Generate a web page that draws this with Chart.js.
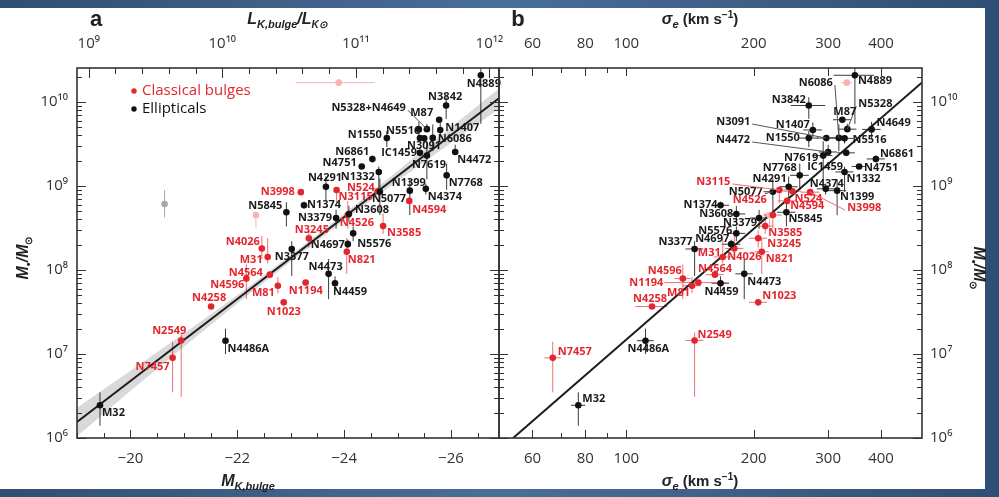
<!DOCTYPE html>
<html>
<head>
<meta charset="utf-8">
<title>Black hole mass vs bulge luminosity and velocity dispersion</title>
<script src="https://cdn.jsdelivr.net/npm/chart.js@4.4.1/dist/chart.umd.min.js"></script>
<style>
  html, body { margin: 0; padding: 0; }
  body { width: 999px; height: 497px; overflow: hidden; position: relative;
         background: linear-gradient(90deg, #2d4f76, #4a6f96 50%, #2d4f76); }
  #sheet { position: absolute; left: 0; top: 8px; width: 985px; height: 481px; background: #fff; }
  canvas { position: absolute; top: 0; }
  #panelA { left: 0; }
  #panelB { left: 480px; }
</style>
</head>
<body>
<div id="sheet"></div>
<canvas id="panelA" width="520" height="497"></canvas>
<canvas id="panelB" width="519" height="497"></canvas>
<script>
// ---- values ----
const ellNames = ['M32','N4486A','N3377','N4697','N5576','N4473','N4459','N5845','N1374','N3379','N3608','N4291','N5077','N1332','N4751','N6861','N1550','N1399','N4374','N7768','N4472','N7619','IC1459','N3091','N6086','N1407','N5516','N5328','N4649','M87','N3842','N4889'];
const ellMK = [-19.43,-21.78,-23.02,-24.07,-24.17,-23.71,-23.83,-22.92,-23.25,-23.85,-24.09,-23.66,-24.67,-24.65,-24.33,-24.53,-24.80,-25.23,-25.53,-25.92,-26.08,-25.55,-25.42,-25.42,-25.66,-25.80,-25.50,-25.55,-25.40,-25.78,-25.91,-26.56];
const ellSigma = [77,111,145,177,182,190,167,239,167,206,182,242,222,328,355,389,270,315,296,257,300,292,331,297,318,276,328,333,380,324,270,347];
const ellMbh = [2.45e6,1.44e7,1.78e8,2.03e8,2.73e8,9.0e7,6.96e7,4.87e8,5.9e8,4.16e8,4.65e8,9.8e8,8.55e8,1.47e9,1.71e9,2.1e9,3.72e9,8.8e8,9.25e8,1.34e9,2.54e9,2.3e9,2.48e9,3.72e9,3.74e9,4.65e9,3.69e9,4.75e9,4.72e9,6.15e9,9.09e9,2.08e10];
const ellMbhLo = [1.4e6,1.0e7,8.5e7,1.8e8,2.2e8,4.5e7,5.6e7,3.3e8,5.4e8,3.1e8,3.7e8,6.6e8,4.5e8,8.5e8,1.6e9,1.9e9,2.9e9,4.5e8,7.9e8,9.0e8,2.44e9,1.2e9,2.3e9,3.6e9,2.6e9,3.8e9,3.2e9,4.5e9,3.7e9,5.8e9,6.3e9,5.5e9];
const ellMbhHi = [3.5e6,2.0e7,2.2e8,2.3e8,3.3e8,1.35e8,8.4e7,6.4e8,6.5e8,5.2e8,5.8e8,1.3e9,1.23e9,1.7e9,1.8e9,2.3e9,4.5e9,1.2e9,1.07e9,1.85e9,3.1e9,3.4e9,2.7e9,3.8e9,5.4e9,5.7e9,4.0e9,5.5e9,5.8e9,6.5e9,1.14e10,3.7e10];
const ellSigmaErr = [3,5,7,9,9,9,8,12,8,10,9,12,11,16,14,19,14,16,14,13,15,15,16,15,16,14,16,17,19,16,25,38];

const bulgeNames = ['N3998','N4026','M31','N4564','N4596','N4258','M81','N1194','N1023','N2549','N7457','N3245','N524','N3115','N4526','N3585','N821','N4594'];
const bulgeMK = [-23.19,-22.46,-22.57,-22.61,-22.17,-21.51,-22.76,-23.28,-22.87,-20.95,-20.79,-23.34,-24.63,-23.86,-24.07,-24.73,-24.05,-25.22];
const bulgeSigma = [272,180,169,162,136,115,143,148,205,145,67,205,247,230,222,213,209,240];
const bulgeMbh = [8.45e8,1.8e8,1.43e8,8.8e7,7.9e7,3.67e7,6.5e7,7.08e7,4.13e7,1.45e7,9.0e6,2.39e8,8.67e8,8.97e8,4.51e8,3.33e8,1.65e8,6.65e8];
const bulgeMbhLo = [8.2e8,1.35e8,1.2e8,8.4e7,4.5e7,3.6e7,5.3e7,6.7e7,3.7e7,3.1e6,3.5e6,1.85e8,8.3e8,6.2e8,3.1e8,2.7e8,9.0e7,6.0e8];
const bulgeMbhHi = [8.7e8,2.55e8,2.4e8,9.2e7,1.16e8,3.7e7,8.2e7,7.4e7,4.5e7,1.8e7,1.4e7,2.95e8,9.1e8,9.5e8,6.6e8,4.7e8,2.4e8,7.3e8];
const bulgeSigmaErr = [14,9,8,8,6,10,7,25,10,7,3,10,12,11,11,10,8,12];

// faded (omitted) objects
const omitKind = ['E','C','C'];
const omitMK = [-20.64,-22.35,-23.9];
const omitMKLo = [null,null,-23.1];
const omitMKHi = [null,null,-24.57];
const omitSigma = [null,218,332];
const omitSigmaErr = [null,6,10];
const omitMbh = [6.1e8,4.5e8,1.7e10];
const omitMbhLo = [4.2e8,3.2e8,null];
const omitMbhHi = [8.9e8,4.9e8,null];

// fits
const fitMK = [-19, -26.9];
const fitMKMbh = [1.55e6, 1.11e10];
const bandMK = [-19,-20,-21,-22,-23,-24,-25,-26,-26.9];
const bandHi = [2.29e6,6.3e6,1.76e7,5.0e7,1.51e8,4.68e8,1.51e9,5.0e9,1.45e10];
const bandLo = [1.05e6,3.63e6,1.22e7,3.98e7,1.26e8,3.89e8,1.15e9,3.24e9,8.3e9];
const fitSigma = [54, 500];
const fitSigmaMbh = [1.0e6, 1.71e10];

// axes
const MSUN_K = 3.28;
const mkMin = -26.9, mkMax = -19;
const mbhMin = 1e6, mbhMax = 2.54e10;
const sigmaMin = 50, sigmaMax = 500;
const mkTicks = [-20,-22,-24,-26];
const lumTicks = [9,10,11,12];
const sigmaTicks = [60,80,100,200,300,400];
const sigmaMinorTicks = [70,90];
const mbhTicks = [1e6,1e7,1e8,1e9,1e10];

// label placement [dx, dy, align, leader, text]
const labelsA = {
  M32:[2,8,'l'], N4486A:[2,8,'l'], N3377:[-17,8,'l'], N4697:[-3,1,'r'], N5576:[4,10,'l'],
  N4473:[-20,-7,'l'], N4459:[-2,9,'l'], N5845:[-4,-6,'r'], N1374:[3,0,'l'], N3379:[-4,0,'r'],
  N3608:[6,-4,'l'], N4291:[-18,-9,'l'], N5077:[-8,7,'l'], N1332:[-4,5,'r'], N4751:[-5,-4,'r'],
  N6861:[-3,-7,'r'], N1550:[-5,-3,'r'], N1399:[-18,-8,'l'], N4374:[2,8,'l'], N7768:[2,8,'l'],
  N4472:[2,8,'l'], N7619:[-15,9,'l'], IC1459:[-3,0,'r'], N3091:[-13,8,'l'], N6086:[5,1,'l'],
  N1407:[5,-2,'l'], N5516:[-4,-8,'r'], N5328:[-21,-21,'r',true,'N5328+N4649'], M87:[-6,-7,'r'],
  N3842:[-18,-9,'l'], N4889:[-14,9,'l'],
  N3998:[-6,0,'r'], N4026:[-2,-7,'r'], M31:[-5,3,'r'], N4564:[-7,-2,'r'], N4596:[-2,6,'r'],
  N4258:[-19,-9,'l'], M81:[-3,7,'r'], N1194:[-17,8,'l'], N1023:[-17,10,'l'], N2549:[-29,-10,'l'],
  N7457:[-3,9,'r'], N3245:[-14,-8,'l'], N524:[-3,-3,'r'], N3115:[2,7,'l'], N4526:[-8,8,'l'],
  N3585:[4,7,'l'], N821:[1,8,'l'], N4594:[3,9,'l']
};
const labelsB = {
  M32:[4,-6,'l'], N4486A:[-18,8,'l'], N3377:[-2,-7,'r'], N4697:[-2,-5,'r'], N5576:[-4,-3,'r'],
  N4473:[3,8,'l'], N4459:[-16,9,'l'], N5845:[2,7,'l'], N1374:[-3,0,'r'], N3379:[-2,5,'r'],
  N3608:[-3,0,'r'], N4291:[-2,-8,'r'], N5077:[-10,0,'r',true], N1332:[2,7,'l'], N4751:[5,1,'l'],
  N6861:[4,-5,'l'], N1550:[-9,0,'r'], N1399:[3,6,'l'], N4374:[-16,-5,'l'], N7768:[-3,-7,'r'],
  N4472:[-78,-12,'r',true], N7619:[-5,2,'r'], IC1459:[-39,14,'l'], N3091:[-76,-16,'r',true],
  N6086:[-6,-55,'r',true], N1407:[-3,-5,'r'], N5516:[8,1,'l'], N5328:[11,-25,'l',true],
  N4649:[5,-7,'l'], M87:[-9,-8,'l'], N3842:[-3,-6,'r'], N4889:[3,6,'l'],
  N3998:[37,16,'l',true], N4026:[-7,8,'l'], M31:[-2,-4,'r'], N4564:[-17,-6,'l'], N4596:[-1,-8,'r'],
  N4258:[-19,-8,'l'], M81:[-2,7,'r'], N1194:[-35,0,'r'], N1023:[4,-6,'l'], N2549:[3,-6,'l'],
  N7457:[5,-6,'l'], N3245:[9,6,'l'], N524:[2,8,'l'], N3115:[-49,-8,'r',true], N4526:[-6,-15,'r'],
  N3585:[3,7,'l'], N821:[4,7,'l'], N4594:[3,5,'l']
};

// ---- styling ----
const RED = '#e3262d', RED_BAR = '#ec6f72', PINK = '#f4b3b5';
const BLACK = '#111', BLACK_BAR = '#3a3a3a', GREY = '#a8a8a8';
const AXIS = '#333';
const SANS = "'Open Sans', 'Liberation Sans', sans-serif";
const tickFont = { family: SANS, size: 15 };
const labelFont = "bold 11px " + SANS;

const SUP = { '0':'\u2070','1':'\u00b9','2':'\u00b2','3':'\u00b3','4':'\u2074','5':'\u2075','6':'\u2076','7':'\u2077','8':'\u2078','9':'\u2079' };
const sup = n => String(n).split('').map(c => SUP[c]).join('');

const mbhMinor = [];
for (let d = 6; d <= 10; d++) for (let k = 2; k <= 9; k++) if (k * Math.pow(10, d) <= mbhMax) mbhMinor.push(k * Math.pow(10, d));
const mkAll = [];
for (let m = -19; m >= mkMin; m -= 0.5) mkAll.push(m);
const lumAll = [];
for (let l = 9; l <= 12.001; l += 0.2) lumAll.push(+l.toFixed(1));

function mbhAxis(pos, pad) {
  return {
    type: 'logarithmic', position: pos, min: mbhMin, max: mbhMax,
    afterBuildTicks: s => { s.ticks = mbhTicks.map(v => ({ value: v })); },
    ticks: { callback: v => '10' + sup(Math.round(Math.log10(v))), font: tickFont, color: AXIS, padding: pad, autoSkip: false },
    grid: { display: false, drawTicks: false },
    border: { display: false },
    afterFit: s => { s.width = 77; s.paddingTop = 0; s.paddingBottom = 0; }
  };
}
function xAxis(type, pos, min, max, ticks, label, reverse) {
  return {
    type: type, position: pos, min: min, max: max, reverse: !!reverse,
    afterBuildTicks: s => { s.ticks = ticks.map(v => ({ value: v })); },
    ticks: { callback: label, font: tickFont, color: AXIS, padding: pos === 'top' ? 15 : 12, autoSkip: false, maxRotation: 0 },
    grid: { display: false, drawTicks: false },
    border: { display: false },
    afterFit: s => { s.height = pos === 'top' ? 68 : 59; s.paddingLeft = 0; s.paddingRight = 0; }
  };
}

function drawRich(ctx, parts, x, y, rot) {
  ctx.save();
  ctx.translate(x, y);
  if (rot) ctx.rotate(rot);
  let w = 0;
  parts.forEach(p => { ctx.font = p.f; w += ctx.measureText(p.t).width; });
  let cx = -w / 2;
  ctx.textBaseline = 'alphabetic';
  ctx.textAlign = 'left';
  ctx.fillStyle = '#222';
  parts.forEach(p => { ctx.font = p.f; ctx.fillText(p.t, cx, p.dy || 0); cx += ctx.measureText(p.t).width; });
  ctx.restore();
}
const BI = sz => 'italic bold ' + sz + 'px "Liberation Sans", sans-serif';
const B = sz => 'bold ' + sz + 'px "Liberation Sans", sans-serif';
const sigmaTitle = [{ t: '\u03c3', f: BI(16) }, { t: 'e', f: BI(11), dy: 4 }, { t: ' (km s', f: B(15) }, { t: '\u22121', f: B(10), dy: -6 }, { t: ')', f: B(15) }];
const mbhTitle = [{ t: 'M', f: BI(16) }, { t: '\u2022', f: B(11), dy: 4 }, { t: '/M', f: BI(16) }, { t: '\u2299', f: B(10), dy: 4 }];

function innerTicks(ctx, area, scale, edge, vals, len) {
  ctx.beginPath();
  vals.forEach(v => {
    const p = Math.round(scale.getPixelForValue(v)) + 0.5;
    if (edge === 'bottom') { ctx.moveTo(p, area.bottom); ctx.lineTo(p, area.bottom - len); }
    if (edge === 'top') { ctx.moveTo(p, area.top); ctx.lineTo(p, area.top + len); }
    if (edge === 'left') { ctx.moveTo(area.left, p); ctx.lineTo(area.left + len, p); }
    if (edge === 'right') { ctx.moveTo(area.right, p); ctx.lineTo(area.right - len, p); }
  });
  ctx.stroke();
}

function makePlugin(groups, labels, decorate) {
  return {
    id: 'panelDecor',
    beforeDatasetsDraw(chart) {
      const ctx = chart.ctx, a = chart.chartArea, sx = chart.scales.x, sy = chart.scales.y;
      ctx.save();
      ctx.beginPath(); ctx.rect(a.left, a.top, a.right - a.left, a.bottom - a.top); ctx.clip();
      ctx.lineWidth = 1;
      groups.forEach(g => {
        g.xs.forEach((xv, i) => {
          if (xv == null) return;
          const px = sx.getPixelForValue(xv), py = sy.getPixelForValue(g.ys[i]);
          ctx.strokeStyle = g.barColor(i);
          ctx.beginPath();
          if (g.yLo && g.yLo[i] != null) { ctx.moveTo(px, sy.getPixelForValue(g.yLo[i])); ctx.lineTo(px, sy.getPixelForValue(g.yHi[i])); }
          if (g.xLo && g.xLo[i] != null) { ctx.moveTo(sx.getPixelForValue(g.xLo[i]), py); ctx.lineTo(sx.getPixelForValue(g.xHi[i]), py); }
          ctx.stroke();
        });
      });
      ctx.restore();
    },
    afterDatasetsDraw(chart) {
      const ctx = chart.ctx, sx = chart.scales.x, sy = chart.scales.y;
      ctx.save();
      ctx.font = labelFont;
      ctx.textBaseline = 'middle';
      groups.forEach(g => {
        if (!g.names) return;
        g.names.forEach((n, i) => {
          const L = labels[n];
          if (!L) return;
          const px = sx.getPixelForValue(g.xs[i]), py = sy.getPixelForValue(g.ys[i]);
          const tx = px + L[0], ty = py + L[1];
          const text = L[4] || n;
          ctx.fillStyle = g.textColor;
          ctx.textAlign = L[2] === 'r' ? 'right' : 'left';
          ctx.fillText(text, tx, ty);
          if (L[3]) {
            ctx.strokeStyle = g.textColor === RED ? RED_BAR : '#555';
            ctx.lineWidth = 1;
            ctx.beginPath();
            ctx.moveTo(L[2] === 'r' ? tx + 2 : tx - 2, ty + 2);
            ctx.lineTo(px, py);
            ctx.stroke();
          }
        });
      });
      ctx.restore();
    },
    afterDraw(chart) {
      const ctx = chart.ctx, a = chart.chartArea;
      ctx.save();
      ctx.strokeStyle = AXIS;
      ctx.lineWidth = 1;
      decorate(ctx, a, chart.scales);
      ctx.lineWidth = 1.6;
      ctx.strokeRect(a.left, a.top, a.right - a.left, a.bottom - a.top);
      ctx.restore();
    }
  };
}

function scatterSet(xs, ys, color, order) {
  return { type: 'scatter', data: xs.map((x, i) => ({ x: x, y: ys[i] })).filter(p => p.x != null),
           backgroundColor: color, borderWidth: 0, pointRadius: 3.3, order: order };
}
function lineSet(xs, ys, extra) {
  return Object.assign({ type: 'line', data: xs.map((x, i) => ({ x: x, y: ys[i] })),
           pointRadius: 0, borderWidth: 0, tension: 0, fill: false }, extra);
}
const omitColor = i => omitKind[i] === 'E' ? GREY : PINK;

// ---- panel a ----
const groupsA = [
  { xs: omitMK, ys: omitMbh, yLo: omitMbhLo, yHi: omitMbhHi, xLo: omitMKLo, xHi: omitMKHi, barColor: omitColor },
  { xs: ellMK, ys: ellMbh, yLo: ellMbhLo, yHi: ellMbhHi, names: ellNames, barColor: () => BLACK_BAR, textColor: '#1a1a1a' },
  { xs: bulgeMK, ys: bulgeMbh, yLo: bulgeMbhLo, yHi: bulgeMbhHi, names: bulgeNames, barColor: () => RED_BAR, textColor: RED }
];

new Chart(document.getElementById('panelA'), {
  type: 'scatter',
  data: { datasets: [
    scatterSet(ellMK, ellMbh, BLACK, 0),
    scatterSet(bulgeMK, bulgeMbh, RED, 0),
    scatterSet(omitMK, omitMbh, omitKind.map((k, i) => omitColor(i)), 1),
    lineSet(fitMK, fitMKMbh, { borderColor: '#1c1c1c', borderWidth: 2, order: 2 }),
    lineSet(bandMK, bandHi, { fill: '+1', backgroundColor: 'rgba(0,0,0,0.15)', order: 3 }),
    lineSet(bandMK, bandLo, { order: 3 })
  ] },
  options: {
    responsive: false, animation: false, events: [],
    layout: { padding: { right: 21 } },
    plugins: { legend: { display: false }, tooltip: { enabled: false } },
    scales: {
      x: xAxis('linear', 'bottom', mkMin, mkMax, mkTicks, v => '\u2212' + Math.abs(v), true),
      x2: xAxis('linear', 'top', 0.4 * (MSUN_K - mkMax), 0.4 * (MSUN_K - mkMin), lumTicks, v => '10' + sup(v)),
      y: mbhAxis('left', 9)
    }
  },
  plugins: [makePlugin(groupsA, labelsA, (ctx, a, s) => {
    innerTicks(ctx, a, s.y, 'left', mbhMinor, 5);
    innerTicks(ctx, a, s.y, 'left', mbhTicks, 9);
    innerTicks(ctx, a, s.y, 'right', mbhMinor, 5);
    innerTicks(ctx, a, s.y, 'right', mbhTicks, 9);
    innerTicks(ctx, a, s.x, 'bottom', mkAll, 5);
    innerTicks(ctx, a, s.x, 'bottom', mkTicks, 8);
    innerTicks(ctx, a, s.x2, 'top', lumAll, 6);
    innerTicks(ctx, a, s.x2, 'top', lumTicks, 10);
    // legend
    ctx.font = '15px ' + SANS; ctx.textBaseline = 'middle'; ctx.textAlign = 'left';
    [['Classical bulges', RED, 91], ['Ellipticals', BLACK, 109]].forEach(([t, c, y]) => {
      ctx.fillStyle = c; ctx.beginPath(); ctx.arc(134, y, 2.7, 0, 2 * Math.PI); ctx.fill();
      ctx.fillText(t, 142, y);
    });
    // titles
    ctx.fillStyle = '#222'; ctx.font = B(22); ctx.textAlign = 'center'; ctx.textBaseline = 'alphabetic';
    ctx.fillText('a', 96, 26);
    drawRich(ctx, [{ t: 'L', f: BI(16) }, { t: 'K,bulge', f: BI(11), dy: 4 }, { t: '/L', f: BI(16) }, { t: 'K\u2299', f: BI(10), dy: 4 }], 287, 24);
    drawRich(ctx, [{ t: 'M', f: BI(16) }, { t: 'K,bulge', f: BI(11), dy: 4 }], 248, 486);
    drawRich(ctx, mbhTitle, 28, 258, -Math.PI / 2);
  })]
});

// ---- panel b ----
const omitSigLo = omitSigma.map((s, i) => s == null ? null : s - omitSigmaErr[i]);
const omitSigHi = omitSigma.map((s, i) => s == null ? null : s + omitSigmaErr[i]);
const groupsB = [
  { xs: omitSigma, ys: omitMbh, yLo: omitMbhLo, yHi: omitMbhHi, xLo: omitSigLo, xHi: omitSigHi, barColor: omitColor },
  { xs: ellSigma, ys: ellMbh, yLo: ellMbhLo, yHi: ellMbhHi, xLo: ellSigma.map((s, i) => s - ellSigmaErr[i]), xHi: ellSigma.map((s, i) => s + ellSigmaErr[i]),
    names: ellNames, barColor: () => BLACK_BAR, textColor: '#1a1a1a' },
  { xs: bulgeSigma, ys: bulgeMbh, yLo: bulgeMbhLo, yHi: bulgeMbhHi, xLo: bulgeSigma.map((s, i) => s - bulgeSigmaErr[i]), xHi: bulgeSigma.map((s, i) => s + bulgeSigmaErr[i]),
    names: bulgeNames, barColor: () => RED_BAR, textColor: RED }
];

new Chart(document.getElementById('panelB'), {
  type: 'scatter',
  data: { datasets: [
    scatterSet(ellSigma, ellMbh, BLACK, 0),
    scatterSet(bulgeSigma, bulgeMbh, RED, 0),
    scatterSet(omitSigma, omitMbh, omitKind.map((k, i) => omitColor(i)).filter((c, i) => omitSigma[i] != null), 1),
    lineSet(fitSigma, fitSigmaMbh, { borderColor: '#1c1c1c', borderWidth: 2, order: 2 })
  ] },
  options: {
    responsive: false, animation: false, events: [],
    layout: { padding: { left: 19 } },
    plugins: { legend: { display: false }, tooltip: { enabled: false } },
    scales: {
      x: xAxis('logarithmic', 'bottom', sigmaMin, sigmaMax, sigmaTicks, v => String(v)),
      x2: xAxis('logarithmic', 'top', sigmaMin, sigmaMax, sigmaTicks, v => String(v)),
      y: mbhAxis('right', 8)
    }
  },
  plugins: [makePlugin(groupsB, labelsB, (ctx, a, s) => {
    innerTicks(ctx, a, s.y, 'left', mbhMinor, 5);
    innerTicks(ctx, a, s.y, 'left', mbhTicks, 9);
    innerTicks(ctx, a, s.y, 'right', mbhMinor, 5);
    innerTicks(ctx, a, s.y, 'right', mbhTicks, 9);
    innerTicks(ctx, a, s.x, 'bottom', sigmaMinorTicks, 5);
    innerTicks(ctx, a, s.x, 'bottom', sigmaTicks, 8);
    innerTicks(ctx, a, s.x2, 'top', sigmaMinorTicks, 5);
    innerTicks(ctx, a, s.x2, 'top', sigmaTicks, 8);
    ctx.fillStyle = '#222'; ctx.font = B(22); ctx.textAlign = 'center'; ctx.textBaseline = 'alphabetic';
    ctx.fillText('b', 38, 26);
    drawRich(ctx, sigmaTitle, 220, 24);
    drawRich(ctx, sigmaTitle, 220, 486);
    drawRich(ctx, mbhTitle, 494, 268, Math.PI / 2);
  })]
});
</script>
</body>
</html>
